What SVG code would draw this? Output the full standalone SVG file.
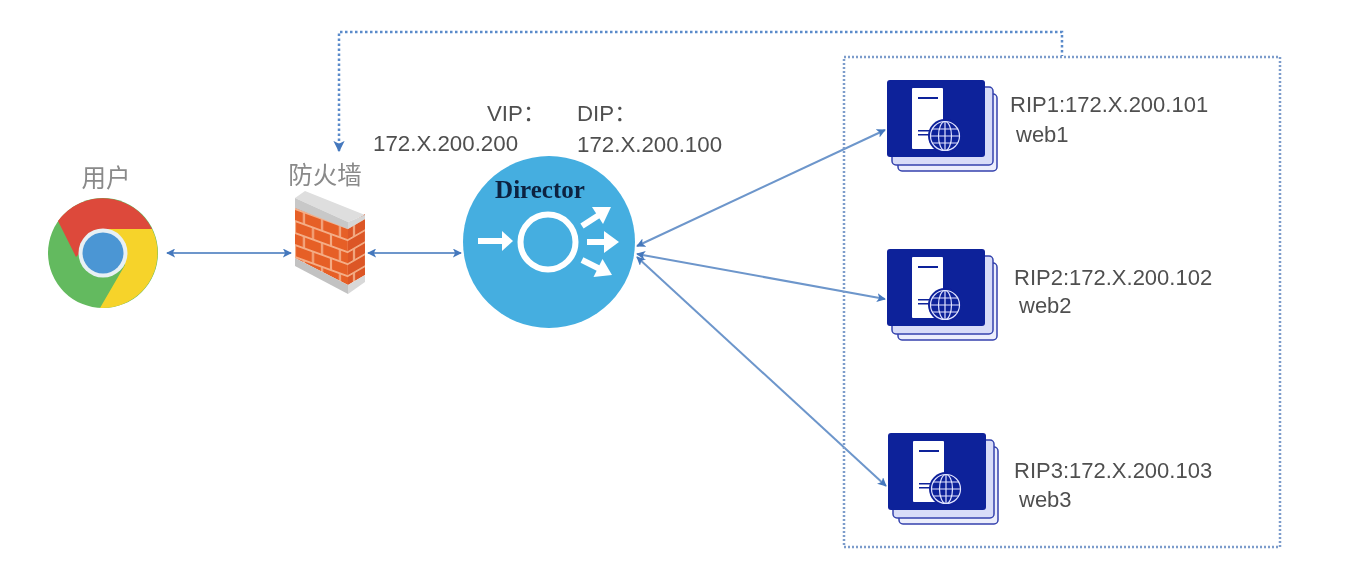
<svg xmlns="http://www.w3.org/2000/svg" width="1346" height="584" viewBox="0 0 1346 584">
<style>
.t{font-family:"Liberation Sans",Arial,"Noto Sans CJK SC",sans-serif;font-size:22.300px;fill:#4f4f4f}
.r{font-size:22px}
.cn{font-family:"Noto Sans CJK SC","Liberation Sans",sans-serif;font-size:24.500px;fill:#8a8a8a}
.c{fill:none;stroke:#6d96cb;stroke-width:2}
.d{fill:none;stroke:#5a8aca;stroke-width:2.500;stroke-dasharray:2.500 2.500}
.w{fill:none;stroke:#fff;stroke-width:6}
.s{filter:url(#soft)}
</style>
<defs>
<filter id="soft" x="-5%" y="-5%" width="110%" height="110%"><feGaussianBlur stdDeviation="0.700"/></filter>
<marker id="a" viewBox="0 0 10 10" refX="9" refY="5" markerWidth="4.500" markerHeight="4.500" orient="auto-start-reverse"><path d="M0 0L10 5L0 10L2.500 5Z" fill="#4478bd"/></marker>
<g id="srv">
<rect x="11" y="14" width="99" height="77" rx="4" fill="#eceefc" stroke="#3442ad" stroke-width="1.500"/>
<rect x="5" y="7" width="101" height="78" rx="4" fill="#d8dcf8" stroke="#3442ad" stroke-width="1.500"/>
<rect x="0" y="0" width="98" height="77" rx="3" fill="#10209a"/>
<rect x="25" y="8" width="31" height="61" rx="1" fill="#fff"/>
<rect x="31" y="17" width="20" height="2" fill="#10209a"/>
<rect x="31" y="50" width="14" height="1.500" fill="#10209a"/>
<rect x="31" y="54" width="14" height="1.500" fill="#10209a"/>
<circle cx="58" cy="56" r="17" fill="#10209a"/>
<g fill="none" stroke="#dfe4ff" stroke-width="1.200"><circle cx="58" cy="56" r="14.500"/><ellipse cx="58" cy="56" rx="6.500" ry="14.500"/><path d="M58 41.500V70.500M43.500 56H72.500M45.500 49H70.500M45.500 63H70.500"/></g>
</g>
<pattern id="brL" width="36" height="24" patternUnits="userSpaceOnUse" patternTransform="translate(295 208) skewY(20)">
<rect width="36" height="24" fill="#e65f28"/>
<path d="M0 1H36M0 13H36M9 1V13M27 1V13M0 13V24M18 13V24M36 13V24" stroke="#f4ad86" stroke-width="2" fill="none"/>
</pattern>
<pattern id="brR" width="24" height="24" patternUnits="userSpaceOnUse" patternTransform="translate(348 227) skewY(-30)">
<rect width="24" height="24" fill="#dc5626"/>
<path d="M0 1H24M0 13H24M6 1V13M18 13V24" stroke="#f2ab84" stroke-width="2" fill="none"/>
</pattern>
</defs>

<g id="connectors" class="s">
<path class="d" d="M339 151V32H1062V56" marker-start="url(#a)"/>
<path class="c" d="M167 253H291" marker-start="url(#a)" marker-end="url(#a)"/>
<path class="c" d="M368 253H461" marker-start="url(#a)" marker-end="url(#a)"/>
<path class="c" d="M637 246L885 130" marker-start="url(#a)" marker-end="url(#a)"/>
<path class="c" d="M637 254L885 299" marker-start="url(#a)" marker-end="url(#a)"/>
<path class="c" d="M637 257L886 486" marker-start="url(#a)" marker-end="url(#a)"/>
</g>

<g id="cluster" class="s"><rect x="844" y="57" width="436" height="490" fill="none" stroke="#7c9ccb" stroke-width="2.500" stroke-dasharray="2 2"/></g>

<g id="user" class="s">
<text class="cn" x="106" y="187" text-anchor="middle">用户</text>
<circle cx="103" cy="253" r="55" fill="#64ba5e"/>
<path d="M58 221A55 55 0 0 1 152 229L103 229L76 257Z" fill="#dd4a3a"/>
<path d="M152 229A55 55 0 0 1 100 308L125 265L103 229Z" fill="#f6d32c"/>
<circle cx="103" cy="253" r="24.500" fill="#e8f0f4"/>
<circle cx="103" cy="253" r="20.500" fill="#4c96d4"/>
</g>

<g id="firewall" class="s">
<text class="cn" x="325" y="184" text-anchor="middle">防火墙</text>
<path d="M295 205L348 225V285L295 258Z" fill="url(#brL)"/>
<path d="M348 225L365 214V275L348 285Z" fill="url(#brR)"/>
<path d="M295 258L348 285V294L295 266Z" fill="#c2c2c2"/>
<path d="M348 285L365 275V282L348 294Z" fill="#d8d8d8"/>
<path d="M295 198L305 191L365 215L348 222Z" fill="#dedede"/>
<path d="M295 198L348 222V229L295 208Z" fill="#c8c8c8"/>
<path d="M348 222L365 215V219L348 229Z" fill="#d6d6d6"/>
</g>

<g id="director" class="s">
<circle cx="549" cy="242" r="86" fill="#44aee0"/>
<text x="540" y="198" text-anchor="middle" font-family="Liberation Serif,serif" font-size="25" font-weight="bold" fill="#0b2140">Director</text>
<circle cx="548" cy="242" r="27.500" class="w"/>
<path class="w" d="M478 241H503"/><path d="M502 231L513 241L502 251Z" fill="#fff"/>
<path class="w" d="M582 226L599 215"/><path d="M592 207L611 207L603 224Z" fill="#fff"/>
<path class="w" d="M587 242H606"/><path d="M604 231L619 242L604 253Z" fill="#fff"/>
<path class="w" d="M582 260L599 268.500"/><path d="M602.500 259L612 275L593.500 277Z" fill="#fff"/>
</g>

<g id="vip" class="s"><text class="t" x="487" y="121">VIP：</text><text class="t" x="373" y="151">172.X.200.200</text></g>
<g id="dip" class="s"><text class="t" x="577" y="121">DIP：</text><text class="t" x="577" y="152">172.X.200.100</text></g>

<g id="web1" class="s"><use href="#srv" x="887" y="80"/><text class="t r" x="1010" y="112">RIP1:172.X.200.101</text><text class="t r" x="1016" y="142">web1</text></g>
<g id="web2" class="s"><use href="#srv" x="887" y="249"/><text class="t r" x="1014" y="285">RIP2:172.X.200.102</text><text class="t r" x="1019" y="313">web2</text></g>
<g id="web3" class="s"><use href="#srv" x="888" y="433"/><text class="t r" x="1014" y="478">RIP3:172.X.200.103</text><text class="t r" x="1019" y="507">web3</text></g>
</svg>
